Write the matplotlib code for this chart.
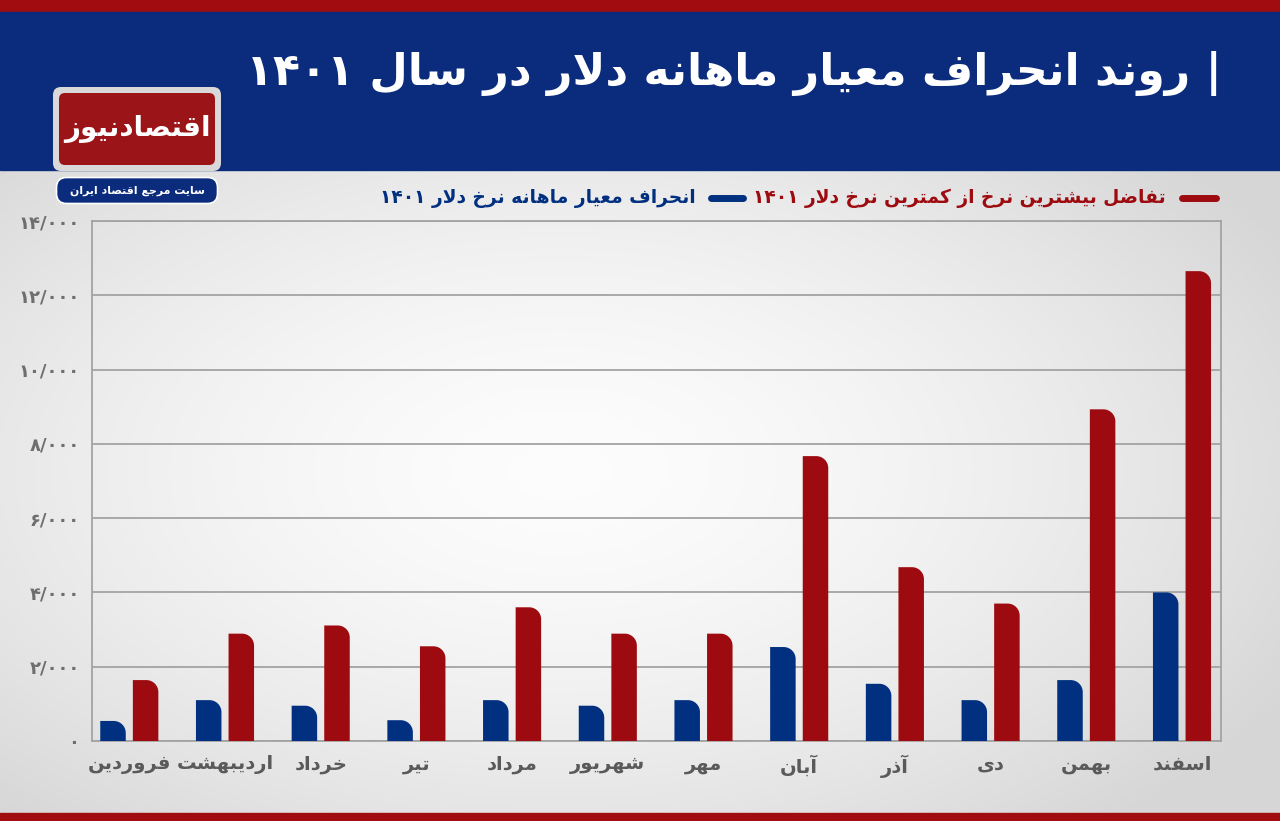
import re
import numpy as np
import matplotlib
matplotlib.use('Agg')
import matplotlib.pyplot as plt
from matplotlib.patches import Rectangle, FancyBboxPatch, PathPatch
from matplotlib.path import Path
from matplotlib.lines import Line2D

# ---------------- data ----------------
months = ['فروردین', 'اردیبهشت', 'خرداد', 'تیر', 'مرداد', 'شهریور',
          'مهر', 'آبان', 'آذر', 'دی', 'بهمن', 'اسفند']
std_dev = [540, 1100, 950, 560, 1100, 950, 1100, 2530, 1540, 1100, 1640, 4000]
range_diff = [1640, 2890, 3110, 2550, 3600, 2890, 2890, 7670, 4680, 3700, 8930, 12650]
yticks = [0, 2000, 4000, 6000, 8000, 10000, 12000, 14000]
title = '| روند انحراف معیار ماهانه دلار در سال ۱۴۰۱'
legend_red = 'تفاضل بیشترین نرخ از کمترین نرخ دلار ۱۴۰۱'
legend_blue = 'انحراف معیار ماهانه نرخ دلار ۱۴۰۱'
logo_main = 'اقتصادنیوز'
logo_sub = 'سایت مرجع اقتصاد ایران'

RED = '#9d0b10'
BLUE = '#00307f'
NAVY = '#0b2c7c'
GRID = '#a3a3a3'

# ---------------- minimal Persian shaping ----------------
DUAL = {
    'ب': '\uFE8F\uFE90\uFE91\uFE92', 'پ': '\uFB56\uFB57\uFB58\uFB59',
    'ت': '\uFE95\uFE96\uFE97\uFE98', 'ث': '\uFE99\uFE9A\uFE9B\uFE9C',
    'ج': '\uFE9D\uFE9E\uFE9F\uFEA0', 'چ': '\uFB7A\uFB7B\uFB7C\uFB7D',
    'ح': '\uFEA1\uFEA2\uFEA3\uFEA4', 'خ': '\uFEA5\uFEA6\uFEA7\uFEA8',
    'س': '\uFEB1\uFEB2\uFEB3\uFEB4', 'ش': '\uFEB5\uFEB6\uFEB7\uFEB8',
    'ص': '\uFEB9\uFEBA\uFEBB\uFEBC', 'ض': '\uFEBD\uFEBE\uFEBF\uFEC0',
    'ط': '\uFEC1\uFEC2\uFEC3\uFEC4', 'ظ': '\uFEC5\uFEC6\uFEC7\uFEC8',
    'ع': '\uFEC9\uFECA\uFECB\uFECC', 'غ': '\uFECD\uFECE\uFECF\uFED0',
    'ف': '\uFED1\uFED2\uFED3\uFED4', 'ق': '\uFED5\uFED6\uFED7\uFED8',
    'ک': '\uFB8E\uFB8F\uFB90\uFB91', 'گ': '\uFB92\uFB93\uFB94\uFB95',
    'ل': '\uFEDD\uFEDE\uFEDF\uFEE0', 'م': '\uFEE1\uFEE2\uFEE3\uFEE4',
    'ن': '\uFEE5\uFEE6\uFEE7\uFEE8', 'ه': '\uFEE9\uFEEA\uFEEB\uFEEC',
    'ی': '\uFBFC\uFBFD\uFBFE\uFBFF', 'ئ': '\uFE89\uFE8A\uFE8B\uFE8C',
}
RIGHT = {
    'ا': '\uFE8D\uFE8E', 'آ': '\uFE81\uFE82', 'د': '\uFEA9\uFEAA',
    'ذ': '\uFEAB\uFEAC', 'ر': '\uFEAD\uFEAE', 'ز': '\uFEAF\uFEB0',
    'ژ': '\uFB8A\uFB8B', 'و': '\uFEED\uFEEE',
}


def shape(s):
    out = []
    n = len(s)
    i = 0
    while i < n:
        c = s[i]
        prev = s[i - 1] if i > 0 else ''
        pc = prev in DUAL
        if c == 'ل' and i + 1 < n and s[i + 1] in ('ا', 'آ'):
            lig = '\uFEFB\uFEFC' if s[i + 1] == 'ا' else '\uFEF5\uFEF6'
            out.append(lig[1] if pc else lig[0])
            i += 2
            continue
        nxt = s[i + 1] if i + 1 < n else ''
        if c in DUAL:
            f = DUAL[c]
            nc = nxt in DUAL or nxt in RIGHT
            if pc and nc:
                out.append(f[3])
            elif pc:
                out.append(f[1])
            elif nc:
                out.append(f[2])
            else:
                out.append(f[0])
        elif c in RIGHT:
            f = RIGHT[c]
            out.append(f[1] if pc else f[0])
        else:
            out.append(c)
        i += 1
    return ''.join(out)


NUMCLS = '0-9\u06F0-\u06F9/'


def rtl(s):
    sh = shape(s)
    runs = re.findall('[' + NUMCLS + ']+|[^' + NUMCLS + ']+', sh)
    out = []
    for r in reversed(runs):
        if re.match('[0-9\u06F0-\u06F9]', r):
            out.append(r)
        else:
            out.append(r[::-1])
    return ''.join(out)


def fa_num(v):
    s = f'{v:,}'.replace(',', '/')
    return s.translate(str.maketrans('0123456789', '۰۱۲۳۴۵۶۷۸۹'))


plt.rcParams['font.family'] = ['DejaVu Sans']

W, H = 1280, 821
fig = plt.figure(figsize=(W / 100, H / 100), dpi=100)

# ---------------- background axes (pixel coordinates) ----------------
bg = fig.add_axes([0, 0, 1, 1], zorder=0)
bg.set_xlim(0, W)
bg.set_ylim(H, 0)
bg.axis('off')

yy, xx = np.mgrid[170:814, 0:W]
r = np.sqrt(((xx - 560) / 760.0) ** 2 + ((yy - 470) / 430.0) ** 2)
g = np.clip(0.99 - 0.13 * r ** 1.6, 0.84, 0.99)
img = np.dstack([g, g, g])
bg.imshow(img, extent=(0, W, 814, 170), aspect='auto', zorder=0, interpolation='bilinear')

bg.add_patch(Rectangle((0, 0), W, 12, color='#a00c10', zorder=1))
bg.add_patch(Rectangle((0, 12), W, 158, color=NAVY, zorder=1))
bg.add_patch(Rectangle((0, 813), W, 8, color='#a00c10', zorder=1))

renderer = fig.canvas.get_renderer()


def fit_width(t, target):
    bb = t.get_window_extent(renderer)
    t.set_fontsize(t.get_fontsize() * target / bb.width)


# title
t = bg.text(1222, 73, rtl(title), ha='right', va='center', color='white',
            fontsize=34, fontweight='bold', zorder=3)
fit_width(t, 975)

# logo
bg.add_patch(FancyBboxPatch((55, 89), 164, 80, boxstyle='round,pad=2,rounding_size=8',
                            fc='#d9d9d9', ec='none', zorder=2))
bg.add_patch(FancyBboxPatch((59, 93), 156, 72, boxstyle='round,pad=0,rounding_size=6',
                            fc='#9b1418', ec='none', zorder=3))
t = bg.text(137, 129, rtl(logo_main), ha='center', va='center', color='white',
            fontsize=28, fontweight='bold', zorder=4)
fit_width(t, 146)
bg.add_patch(FancyBboxPatch((58, 179), 158, 23, boxstyle='round,pad=1.5,rounding_size=10',
                            fc=NAVY, ec='white', lw=1.2, zorder=3))
t = bg.text(137, 191, rtl(logo_sub), ha='center', va='center', color='white',
            fontsize=10, fontweight='bold', zorder=4)
fit_width(t, 136)

# legend
LY = 198
bg.add_line(Line2D([1182, 1216], [LY, LY], color=RED, lw=5, solid_capstyle='round', zorder=3))
t_red = bg.text(1166, LY, rtl(legend_red), ha='right', va='center', color=RED,
                fontsize=14, fontweight='bold', zorder=3)
fit_width(t_red, 414)
x_left = t_red.get_window_extent(renderer).x0
bg.add_line(Line2D([x_left - 42, x_left - 10], [LY, LY], color=BLUE, lw=5,
                   solid_capstyle='round', zorder=3))
t_blue = bg.text(x_left - 58, LY, rtl(legend_blue), ha='right', va='center', color=BLUE,
                 fontsize=t_red.get_fontsize(), fontweight='bold', zorder=3)

# ---------------- main chart ----------------
AX_L, AX_R, AX_T, AX_B = 92, 1221, 221, 741
ax = fig.add_axes([AX_L / W, 1 - AX_B / H, (AX_R - AX_L) / W, (AX_B - AX_T) / H], zorder=2)
ax.patch.set_alpha(0)

step = 95.7
c0 = 129.3
xlim = ((AX_L - c0) / step, (AX_R - c0) / step)
ax.set_xlim(*xlim)
ax.set_ylim(0, 14000)

x = np.arange(len(months))
bw = 25.5 / step
off = 16.3 / step
b_blue = ax.bar(x - off, std_dev, width=bw, color=BLUE, zorder=3)
b_red = ax.bar(x + off, range_diff, width=bw, color=RED, zorder=3)

ux = (AX_R - AX_L) / (xlim[1] - xlim[0])
uy = (AX_B - AX_T) / 14000.0
rpx = 12
k = 0.5523
for bars, col in ((b_blue, BLUE), (b_red, RED)):
    for rect in bars:
        x0, w, h = rect.get_x(), rect.get_width(), rect.get_height()
        rx = min(rpx / ux, w)
        ry = min(rpx / uy, h)
        verts = [(x0, 0), (x0, h), (x0 + w - rx, h), (x0 + w - rx + k * rx, h),
                 (x0 + w, h - ry + k * ry), (x0 + w, h - ry), (x0 + w, 0), (x0, 0)]
        codes = [Path.MOVETO, Path.LINETO, Path.LINETO, Path.CURVE4, Path.CURVE4,
                 Path.CURVE4, Path.LINETO, Path.CLOSEPOLY]
        rect.set_visible(False)
        ax.add_patch(PathPatch(Path(verts, codes), fc=col, ec='none', zorder=3))

ax.set_yticks(yticks)
ax.set_yticklabels([fa_num(v) for v in yticks], fontsize=13, fontweight='bold', color='#6e6e6e')
ax.set_xticks(x)
ax.set_xticklabels([rtl(m) for m in months], fontsize=14, fontweight='bold', color='#5a5a5a')
ax.tick_params(axis='both', length=0)
ax.tick_params(axis='y', pad=9)
ax.tick_params(axis='x', pad=10)
ax.grid(axis='y', color=GRID, lw=1.3, zorder=1)
for s in ax.spines.values():
    s.set_color(GRID)
    s.set_linewidth(1.3)

fig.savefig('out.png', dpi=100)
